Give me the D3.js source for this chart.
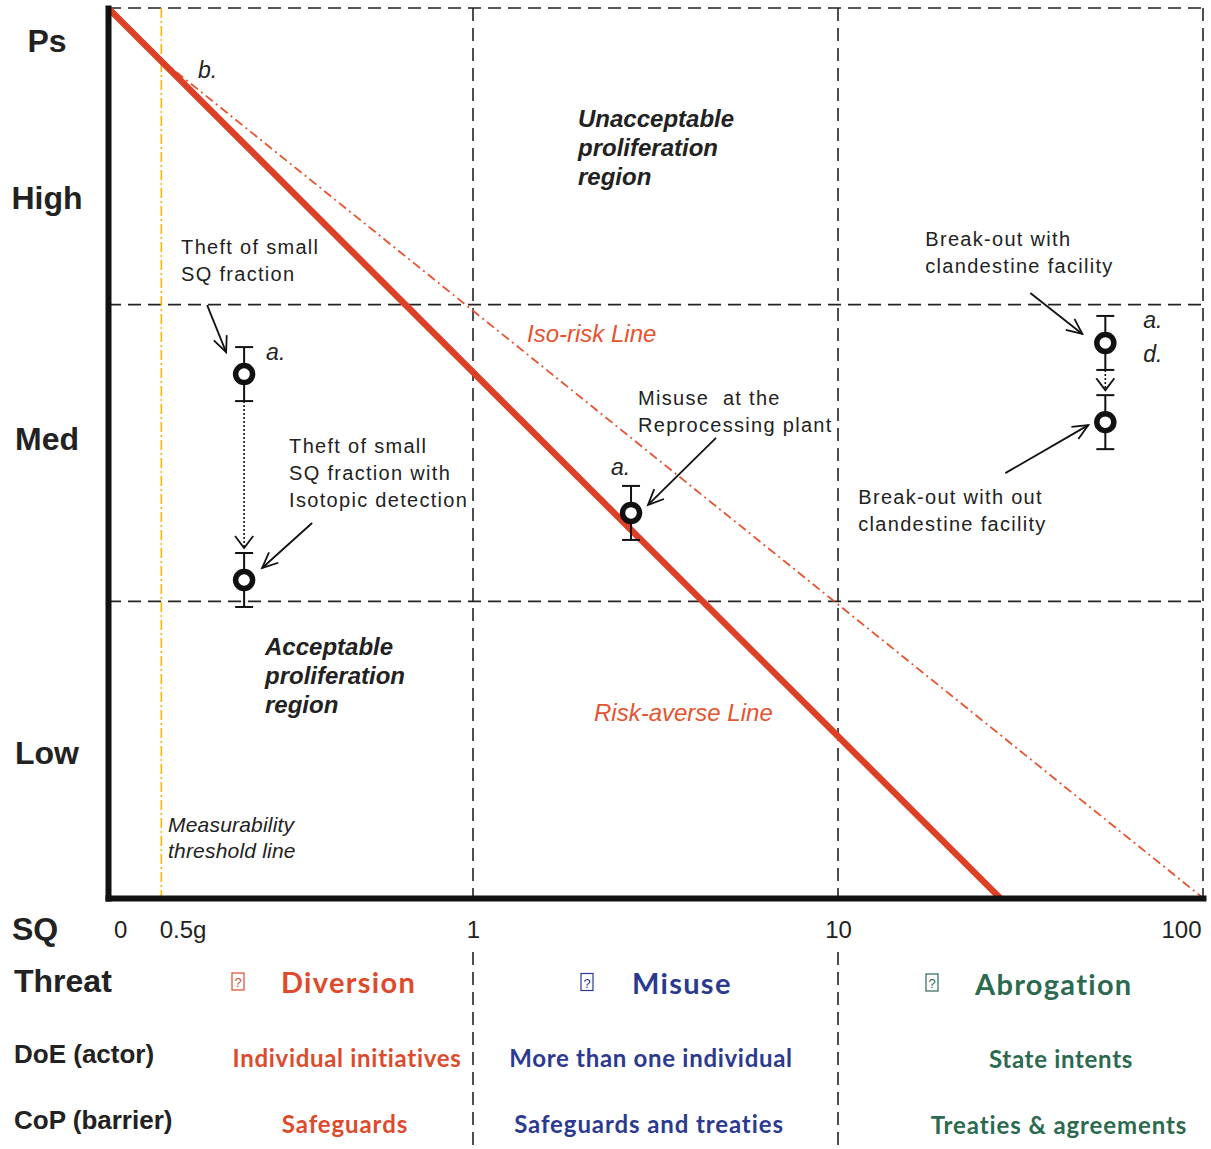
<!DOCTYPE html>
<html><head><meta charset="utf-8">
<script src="https://cdn.jsdelivr.net/npm/d3@7"></script>
<style>body{margin:0;background:#fff}svg{display:block}</style>
</head><body>
<svg id="c" width="1211" height="1149"></svg>
<script>
// ---------------- data ----------------
const levelLabels = ["Low", "Med", "High", "Ps"];
const levelLabelValues = [0.49, 1.55, 2.36, 2.89];
const levelBreaks = [1, 2, 3];
const sqTickLabels = ["0", "0.5g", "1", "10", "100"];
const sqTickValues = [0.108, 0.16, 1, 10, 100];
const decadeBreaks = [1, 10, 100];
const thresholdSQ = 0.14;
const riskAverseLine = [[0.1, 3], [27.8, 0]];
const isoRiskLine = [[0.14, 2.825], [100, 0]];
const pointLabels = [
  ["Theft of small", "SQ fraction"],
  ["Theft of small", "SQ fraction with", "Isotopic detection"],
  ["Misuse  at the", "Reprocessing plant"],
  ["Break-out with", "clandestine facility"],
  ["Break-out with out", "clandestine facility"]
];
const pointSQ = [0.236, 0.236, 2.71, 54, 54];
const pointPs = [1.766, 1.072, 1.298, 1.871, 1.604];
const pointErr = [0.091, 0.091, 0.091, 0.091, 0.091];
const pointTags = [["a."], [], ["a."], ["a.", "d."], []];
const transitions = [[0, 1], [3, 4]];
const threats = ["Diversion", "Misuse", "Abrogation"];
const actors = ["Individual initiatives", "More than one individual", "State intents"];
const barriers = ["Safeguards", "Safeguards and treaties", "Treaties & agreements"];
const rowTitles = ["Threat", "DoE (actor)", "CoP (barrier)"];

// ---------------- layout / style ----------------
const svg = d3.select("#c");
const x = d3.scaleLog().domain([0.1, 100]).range([108, 1203]);
const y = d3.scaleLinear().domain([0, 3]).range([898, 8]);
const RED = "#dd4a2c", BLUE = "#2b3a8f", GREEN = "#2c6a4f";
const colColors = [RED, BLUE, GREEN];
const sans = "'Liberation Sans', Arial, Helvetica, sans-serif";
const cal = "Lato, 'Open Sans', sans-serif";
const dashStyle = g => g.attr("stroke", "#222").attr("stroke-width", 1.6).attr("stroke-dasharray", "13,7");

// dashed grid: verticals (plot part + table part), horizontals
dashStyle(svg.append("g").selectAll("line").data(decadeBreaks).join("line")
  .attr("x1", d => x(d)).attr("x2", d => x(d))
  .attr("y1", y(3)).attr("y2", y(0)));
dashStyle(svg.append("g").selectAll("line").data(decadeBreaks.slice(0, -1)).join("line")
  .attr("x1", d => x(d)).attr("x2", d => x(d))
  .attr("y1", 952).attr("y2", 1149));
dashStyle(svg.append("g").selectAll("line").data(levelBreaks).join("line")
  .attr("x1", x(0.1)).attr("x2", x(100))
  .attr("y1", d => y(d)).attr("y2", d => y(d)));

// measurability threshold line
svg.append("line")
  .attr("x1", x(thresholdSQ)).attr("x2", x(thresholdSQ))
  .attr("y1", y(3)).attr("y2", y(0))
  .attr("stroke", "#f6b60a").attr("stroke-width", 1.6).attr("stroke-dasharray", "10,3,2,3");

const line = d3.line().x(d => x(d[0])).y(d => y(d[1]));
// iso-risk line
svg.append("path").attr("d", line(isoRiskLine))
  .attr("fill", "none").attr("stroke", "#e5532f").attr("stroke-width", 1.8)
  .attr("stroke-dasharray", "9,4,2,4");
// risk-averse line
svg.append("path").attr("d", line(riskAverseLine))
  .attr("fill", "none").attr("stroke", "#dc4128").attr("stroke-width", 6.5);

// axes
const lastTick = sqTickValues.length - 1;
const xAxis = d3.axisBottom(x).tickValues(sqTickValues)
  .tickFormat((d, i) => sqTickLabels[i]).tickSize(0).tickSizeOuter(0).tickPadding(0);
const gx = svg.append("g").attr("transform", `translate(0,${y(0)})`).call(xAxis);
gx.select(".domain").attr("stroke", "#111").attr("stroke-width", 6).attr("stroke-linecap", "square");
gx.selectAll("text").attr("font-family", sans).attr("font-size", 24).attr("fill", "#222")
  .attr("dy", 40)
  .attr("text-anchor", (d, i) => i === lastTick ? "end" : "middle")
  .attr("dx", (d, i) => i === lastTick ? -2 : 0);

const yAxis = d3.axisLeft(y).tickValues(levelLabelValues)
  .tickFormat((d, i) => levelLabels[i]).tickSize(0).tickSizeOuter(0).tickPadding(0);
const gy = svg.append("g").attr("transform", `translate(${x(0.1)},0)`).call(yAxis);
gy.select(".domain").attr("stroke", "#111").attr("stroke-width", 6).attr("stroke-linecap", "square");
gy.selectAll("text").attr("font-family", sans).attr("font-size", 32).attr("font-weight", "bold")
  .attr("fill", "#222").attr("text-anchor", "middle").attr("x", -61).attr("dy", 11);

// SQ label
svg.append("text").attr("x", 12).attr("y", 940).text("SQ")
  .attr("font-family", sans).attr("font-size", 32).attr("font-weight", "bold").attr("fill", "#222");

// region labels
function multiText(g, lines, x0, y0, lh, attrs) {
  const t = g.append("text");
  Object.entries(attrs).forEach(([k, v]) => t.attr(k, v));
  lines.forEach((s, i) => t.append("tspan").attr("x", x0).attr("y", y0 + i * lh).text(s));
  return t;
}
const regionStyle = {"font-family": sans, "font-size": 24, "font-weight": "bold", "font-style": "italic", fill: "#222"};
multiText(svg, ["Unacceptable", "proliferation", "region"], 578, 127, 29, regionStyle);
multiText(svg, ["Acceptable", "proliferation", "region"], 265, 655, 29, regionStyle);
svg.append("text").attr("x", 527).attr("y", 342).text("Iso-risk Line")
  .attr("font-family", sans).attr("font-size", 24).attr("font-style", "italic").attr("fill", "#e5532f");
svg.append("text").attr("x", 594).attr("y", 721).text("Risk-averse Line")
  .attr("font-family", sans).attr("font-size", 24).attr("font-style", "italic").attr("fill", "#e5532f");
multiText(svg, ["Measurability", "threshold line"], 168, 832, 26,
  {"font-family": sans, "font-size": 21, "font-style": "italic", fill: "#222", "letter-spacing": 0.2});
svg.append("text").attr("x", 198).attr("y", 78).text("b.")
  .attr("font-family", sans).attr("font-size", 23).attr("font-style", "italic").attr("fill", "#222");

// arrow helper
function arrow(g, x1, y1, x2, y2, opts = {}) {
  const len = opts.len || 16, ang = opts.ang || 0.45;
  g.append("line").attr("x1", x1).attr("y1", y1).attr("x2", x2).attr("y2", y2)
    .attr("stroke", "#111").attr("stroke-width", opts.w || 1.8)
    .attr("stroke-dasharray", opts.dash || null);
  const a = Math.atan2(y1 - y2, x1 - x2);
  const p = [[x2 + len * Math.cos(a + ang), y2 + len * Math.sin(a + ang)], [x2, y2],
             [x2 + len * Math.cos(a - ang), y2 + len * Math.sin(a - ang)]];
  g.append("path").attr("d", d3.line()(p)).attr("fill", "none")
    .attr("stroke", "#111").attr("stroke-width", 1.8);
}

// transitions (dotted arrows between points)
const gT = svg.append("g");
transitions.forEach(([a, b]) => {
  const xa = x(pointSQ[a]);
  const y1 = y(pointPs[a] - pointErr[a]);
  const y2 = y(pointPs[b] + pointErr[b]) - 5;
  arrow(gT, xa, y1, xa, y2, {dash: "2,2", w: 1.6, len: 15, ang: 0.65});
});

// annotation layout (pixel offsets relative to each point)
const annot = [
  {tx: -63, ty: -120, ax: -18, ay: -22, bx: -19, by: -47, tagx: 22, tagy: -14},
  {tx: 45, ty: -127, ax: 18, ay: -12, bx: 50, by: -45},
  {tx: 7, ty: -108, ax: 17, ay: -8, bx: 68, by: -67, tagx: -20, tagy: -38},
  {tx: -180, ty: -97, ax: -23, ay: -9, bx: -52, by: -41, tagx: 38, tagy: -15},
  {tx: -247, ty: 82, ax: -17, ay: 3, bx: -83, by: 48}
];
const gP = svg.append("g");
pointSQ.forEach((sq, i) => {
  const px = x(sq), py = y(pointPs[i]);
  const yt = y(pointPs[i] + pointErr[i]), yb = y(pointPs[i] - pointErr[i]);
  gP.append("line").attr("x1", px).attr("x2", px).attr("y1", yt).attr("y2", yb)
    .attr("stroke", "#111").attr("stroke-width", 2);
  [yt, yb].forEach(v => gP.append("line").attr("x1", px - 9).attr("x2", px + 9)
    .attr("y1", v).attr("y2", v).attr("stroke", "#111").attr("stroke-width", 2));
  gP.append("circle").attr("cx", px).attr("cy", py).attr("r", 8.5)
    .attr("fill", "#fff").attr("stroke", "#111").attr("stroke-width", 5.5);
  const A = annot[i];
  multiText(gP, pointLabels[i], px + A.tx, py + A.ty, 27,
    {"font-family": sans, "font-size": 20, fill: "#222", "letter-spacing": 1.3, "xml:space": "preserve"});
  arrow(gP, px + A.bx + A.ax, py + A.by + A.ay, px + A.ax, py + A.ay, {len: 17, ang: 0.42});
  pointTags[i].forEach((t, k) => gP.append("text").attr("x", px + A.tagx).attr("y", py + A.tagy + k * 34)
    .text(t).attr("font-family", sans).attr("font-size", 23).attr("font-style", "italic").attr("fill", "#222"));
});

// bottom table
const rowBase = [992, 1064, 1130];
rowTitles.forEach((t, i) => svg.append("text").attr("x", 14).attr("y", rowBase[i] - (i ? 1 : 0)).text(t)
  .attr("font-family", sans).attr("font-weight", "bold").attr("font-size", i ? 26 : 32).attr("fill", "#222"));

const threatBoxX = [232, 581, 926];
const threatTextX = [281, 632, 975];
threats.forEach((t, i) => {
  const g = svg.append("g").attr("fill", colColors[i]);
  g.append("rect").attr("x", threatBoxX[i]).attr("y", 973 + i * 0.5).attr("width", 12).attr("height", 17)
    .attr("fill", "none").attr("stroke", colColors[i]).attr("stroke-width", 1.2);
  g.append("text").attr("x", threatBoxX[i] + 6).attr("y", 987 + i * 0.5).attr("text-anchor", "middle")
    .text("?").attr("font-family", sans).attr("font-size", 13);
  g.append("text").attr("x", threatTextX[i]).attr("y", 993 + i).text(t)
    .attr("font-family", cal).attr("font-weight", "bold").attr("font-size", 29).attr("letter-spacing", 1.3);
});
const colCenters = [347, 651, 1061];
actors.forEach((t, i) => svg.append("text").attr("x", colCenters[i]).attr("y", 1067 + (i === 2 ? 1 : 0))
  .attr("text-anchor", "middle").text(t).attr("fill", colColors[i])
  .attr("font-family", cal).attr("font-weight", "bold").attr("font-size", 24).attr("letter-spacing", 0.7));
barriers.forEach((t, i) => svg.append("text").attr("x", colCenters[i] - 2).attr("y", 1133 + (i === 2 ? 1 : 0))
  .attr("text-anchor", "middle").text(t).attr("fill", colColors[i])
  .attr("font-family", cal).attr("font-weight", "bold").attr("font-size", 24).attr("letter-spacing", 0.9));
</script>
</body></html>
